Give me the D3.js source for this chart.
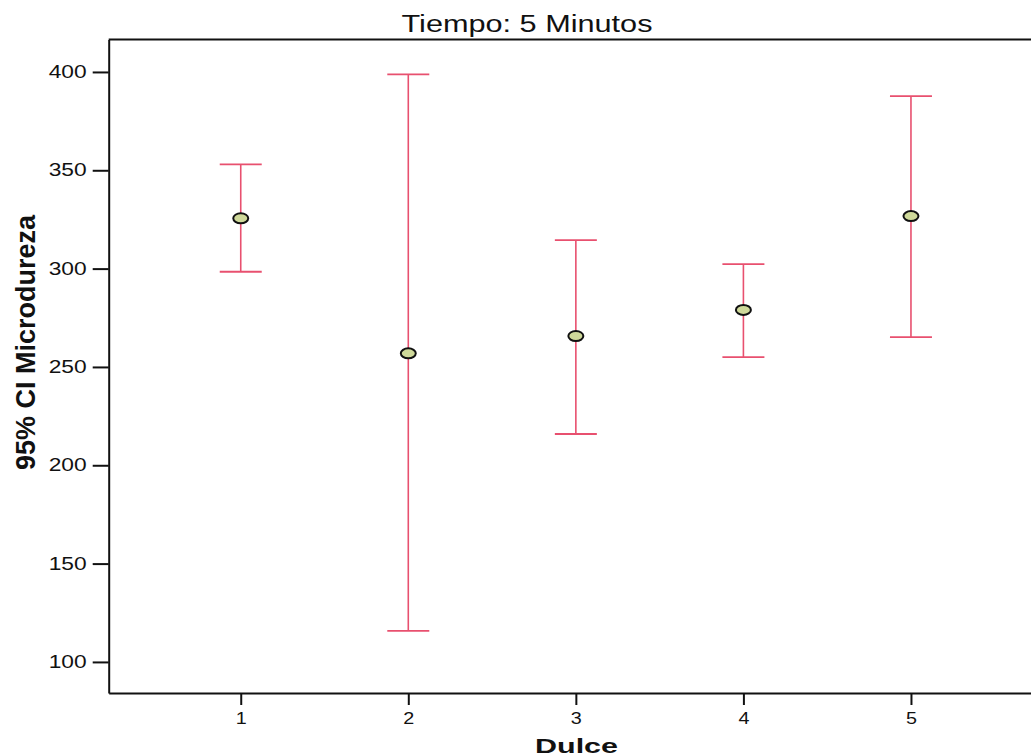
<!DOCTYPE html>
<html>
<head>
<meta charset="utf-8">
<script src="https://cdn.jsdelivr.net/npm/d3@7"></script>
<style>
  body { margin: 0; background: #fff; }
  svg { display: block; }
</style>
</head>
<body>
<div id="chart"></div>
<script>
// data
var groups = [1, 2, 3, 4, 5];
var means  = [325.6, 256.9, 265.7, 279.0, 326.7];
var lower  = [298.4, 115.8, 215.9, 255.0, 265.2];
var upper  = [353.0, 398.8, 314.5, 302.3, 387.7];
var yTicks = [100, 150, 200, 250, 300, 350, 400];

var W = 1031, H = 756;
var plotLeft = 108.7, plotTop = 39.5, plotBottom = 693, plotRight = 1043;

var svg = d3.select("#chart").append("svg")
  .attr("width", W)
  .attr("height", H);

var x = d3.scaleLinear().domain([0.212, 5.788]).range([plotLeft, plotRight]);
var y = d3.scaleLinear().domain([84.2, 416.5]).range([plotBottom, plotTop]);

var font = "'Liberation Sans', Arial, sans-serif";

// y axis
var yAxis = svg.append("g")
  .attr("transform", "translate(" + plotLeft + ",0)")
  .call(d3.axisLeft(y).tickValues(yTicks).tickSize(16).tickPadding(6).tickSizeOuter(0));
yAxis.selectAll("text")
  .attr("font-size", "17.5px")
  .attr("font-family", font)
  .attr("fill", "#111")
  .attr("textLength", 38)
  .attr("lengthAdjust", "spacingAndGlyphs");

// x axis
var xAxis = svg.append("g")
  .attr("transform", "translate(0," + plotBottom + ")")
  .call(d3.axisBottom(x).tickValues(groups).tickFormat(d3.format("d")).tickSize(12).tickPadding(7).tickSizeOuter(0));
xAxis.selectAll("text")
  .attr("font-size", "16.5px")
  .attr("font-family", font)
  .attr("fill", "#111")
  .attr("textLength", 11)
  .attr("lengthAdjust", "spacingAndGlyphs");

svg.selectAll(".domain, .tick line")
  .attr("stroke", "#111")
  .attr("stroke-width", 2);

// frame top / right
svg.append("path")
  .attr("d", "M" + plotLeft + "," + plotTop + "H" + plotRight + "V" + plotBottom)
  .attr("fill", "none")
  .attr("stroke", "#111")
  .attr("stroke-width", 2);

// error bars
var red = "#e8506f";
var capW = 21;
var bars = svg.append("g").selectAll("g")
  .data(groups)
  .enter()
  .append("g");

bars.append("line")
  .attr("x1", function(d){ return x(d); })
  .attr("x2", function(d){ return x(d); })
  .attr("y1", function(d, i){ return y(lower[i]); })
  .attr("y2", function(d, i){ return y(upper[i]); })
  .attr("stroke", red).attr("stroke-width", 1.6);

bars.append("line")
  .attr("x1", function(d){ return x(d) - capW; })
  .attr("x2", function(d){ return x(d) + capW; })
  .attr("y1", function(d, i){ return y(upper[i]); })
  .attr("y2", function(d, i){ return y(upper[i]); })
  .attr("stroke", red).attr("stroke-width", 1.8);

bars.append("line")
  .attr("x1", function(d){ return x(d) - capW; })
  .attr("x2", function(d){ return x(d) + capW; })
  .attr("y1", function(d, i){ return y(lower[i]); })
  .attr("y2", function(d, i){ return y(lower[i]); })
  .attr("stroke", red).attr("stroke-width", 1.8);

bars.append("ellipse")
  .attr("cx", function(d){ return x(d); })
  .attr("cy", function(d, i){ return y(means[i]); })
  .attr("rx", 7.5)
  .attr("ry", 5)
  .attr("fill", "#cfd99a")
  .attr("stroke", "#111")
  .attr("stroke-width", 2);

// titles
svg.append("text")
  .attr("x", 527)
  .attr("y", 32)
  .attr("text-anchor", "middle")
  .attr("font-family", font)
  .attr("font-size", "23px")
  .attr("fill", "#111")
  .attr("textLength", 251)
  .attr("lengthAdjust", "spacingAndGlyphs")
  .text("Tiempo: 5 Minutos");

svg.append("text")
  .attr("x", 576.5)
  .attr("y", 753)
  .attr("text-anchor", "middle")
  .attr("font-family", font)
  .attr("font-weight", "bold")
  .attr("font-size", "20px")
  .attr("fill", "#111")
  .attr("textLength", 83)
  .attr("lengthAdjust", "spacingAndGlyphs")
  .text("Dulce");

svg.append("text")
  .attr("transform", "translate(35,342.5) rotate(-90)")
  .attr("text-anchor", "middle")
  .attr("font-family", font)
  .attr("font-weight", "bold")
  .attr("font-size", "27px")
  .attr("fill", "#111")
  .attr("textLength", 255)
  .attr("lengthAdjust", "spacingAndGlyphs")
  .text("95% CI Microdureza");
</script>
</body>
</html>
